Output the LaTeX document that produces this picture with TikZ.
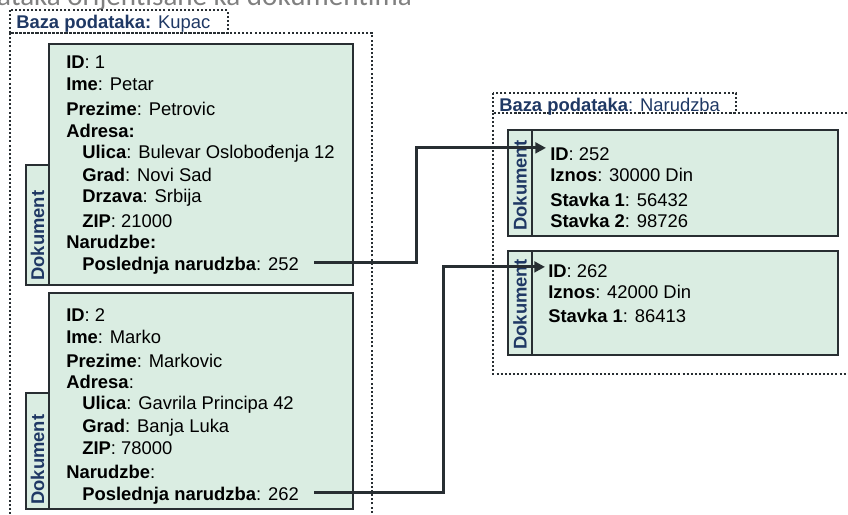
\documentclass[tikz,border=0pt]{standalone}
\usepackage{fontspec}
\setmainfont{Liberation Sans}
\newfontfamily\titlefont{Carlito}
\usetikzlibrary{calc,arrows.meta,shadows}
\definecolor{docgreen}{RGB}{218,237,226}
\definecolor{dbnavy}{RGB}{31,56,100}
\definecolor{edgegray}{RGB}{40,46,50}
\definecolor{titlegray}{RGB}{128,128,128}
\newcommand\fieldsize{\fontsize{13.8}{16}\selectfont}

\begin{document}
\begin{tikzpicture}[x=0.75pt, y=-0.75pt,
	doc/.style={draw=edgegray, line width=1.9pt, fill=docgreen, drop shadow={shadow xshift=1pt, shadow yshift=-1pt, opacity=0.25}},
	dbframe/.style={draw=edgegray, line width=1.5pt, dash pattern=on 1.5pt off 1.6pt},
	field/.style={anchor=base west, inner sep=0pt, font=\fieldsize},
	dbtitle/.style={anchor=base west, inner sep=0pt, font=\fieldsize, text=dbnavy},
	doclabel/.style={rotate=90, anchor=west, inner sep=0pt, font=\fieldsize\bfseries, text=dbnavy},
	link/.style={draw=edgegray, line width=2.3pt, -{Triangle[length=8pt, width=8pt]}}]
		%%%%% START %%%%%
		
		\useasboundingbox (0, 0) rectangle (848, 514);
		\clip (0, 0) rectangle (848, 514);
		
		\node[anchor=base east, inner sep=0pt, font=\titlefont\fontsize{21.8}{25}\selectfont, text=titlegray] (title) at (412, 6) {podataka orijentisane ka dokumentima};
		
		% baza Kupac
		\draw[dbframe] (10, 10) rectangle (228, 33);
		\draw[dbframe] (10, 33) rectangle (372, 530);
		\node[dbtitle] (kupac) at (16, 28) {\textbf{Baza podataka:} Kupac};
		
		% baza Narudzba
		\draw[dbframe] (493, 93) rectangle (736, 113);
		\draw[dbframe] (493, 113) rectangle (870, 374);
		\node[dbtitle] (narudzba) at (499, 111) {\textbf{Baza podataka}: Narudzba};
		
		% dokument 1
		\draw[doc] (26, 165) rectangle (49, 285);
		\draw[doc] (49, 44) rectangle (353, 285);
		\node[doclabel] (tab1) at (37.5, 281) {Dokument};
		\node[field] (id1) at (66, 68) {\textbf{ID}: 1};
		\node[field] (ime1) at (66, 90) {\textbf{Ime}: Petar};
		\node[field] (prezime1) at (66, 115) {\textbf{Prezime}: Petrovic};
		\node[field] (adresa1) at (66, 137) {\textbf{Adresa:}};
		\node[field] (ulica1) at (82, 158) {\textbf{Ulica}: Bulevar Oslobođenja 12};
		\node[field] (grad1) at (82, 181) {\textbf{Grad}: Novi Sad};
		\node[field] (drzava1) at (82, 202) {\textbf{Drzava}: Srbija};
		\node[field] (zip1) at (82, 227) {\textbf{ZIP}: 21000};
		\node[field] (narudzbe1) at (66, 248) {\textbf{Narudzbe:}};
		\node[field] (last1) at (82, 270) {\textbf{Poslednja narudzba}: 252};
		
		% dokument 2
		\draw[doc] (26, 393) rectangle (49, 509);
		\draw[doc] (49, 293) rectangle (353, 509);
		\node[doclabel] (tab2) at (37.5, 505) {Dokument};
		\node[field] (id2) at (66, 321) {\textbf{ID}: 2};
		\node[field] (ime2) at (66, 343) {\textbf{Ime}: Marko};
		\node[field] (prezime2) at (66, 367) {\textbf{Prezime}: Markovic};
		\node[field] (adresa2) at (66, 388) {\textbf{Adresa}:};
		\node[field] (ulica2) at (82, 409) {\textbf{Ulica}: Gavrila Principa 42};
		\node[field] (grad2) at (82, 432) {\textbf{Grad}: Banja Luka};
		\node[field] (zip2) at (82, 454) {\textbf{ZIP}: 78000};
		\node[field] (narudzbe2) at (66, 478) {\textbf{Narudzbe}:};
		\node[field] (last2) at (82, 500) {\textbf{Poslednja narudzba}: 262};
		
		% narudzba 252
		\draw[doc] (508, 130) rectangle (532, 236);
		\draw[doc] (532, 130) rectangle (838, 236);
		\node[doclabel] (tab252) at (520, 231) {Dokument};
		\node[field] (id252) at (550, 160) {\textbf{ID}: 252};
		\node[field] (iznos252) at (550, 181) {\textbf{Iznos}: 30000 Din};
		\node[field] (stavka252a) at (550, 206) {\textbf{Stavka 1}: 56432};
		\node[field] (stavka252b) at (550, 227) {\textbf{Stavka 2}: 98726};
		
		% narudzba 262
		\draw[doc] (508, 251) rectangle (532, 355);
		\draw[doc] (532, 251) rectangle (838, 355);
		\node[doclabel] (tab262) at (520, 350) {Dokument};
		\node[field] (id262) at (548, 277) {\textbf{ID}: 262};
		\node[field] (iznos262) at (548, 298) {\textbf{Iznos}: 42000 Din};
		\node[field] (stavka262a) at (548, 322) {\textbf{Stavka 1}: 86413};
		
		% veze
		\draw[link] ($(last1.east)+(15,-3)$) -- ++(102, 0) |- ($(id252.north west)+(-4,1)$);
		\draw[link] ($(last2.east)+(15,-3)$) -- ++(129, 0) |- ($(id262.north west)+(-3,3)$);
		
		%%%%% END %%%%%
	\end{tikzpicture}
\end{document}
